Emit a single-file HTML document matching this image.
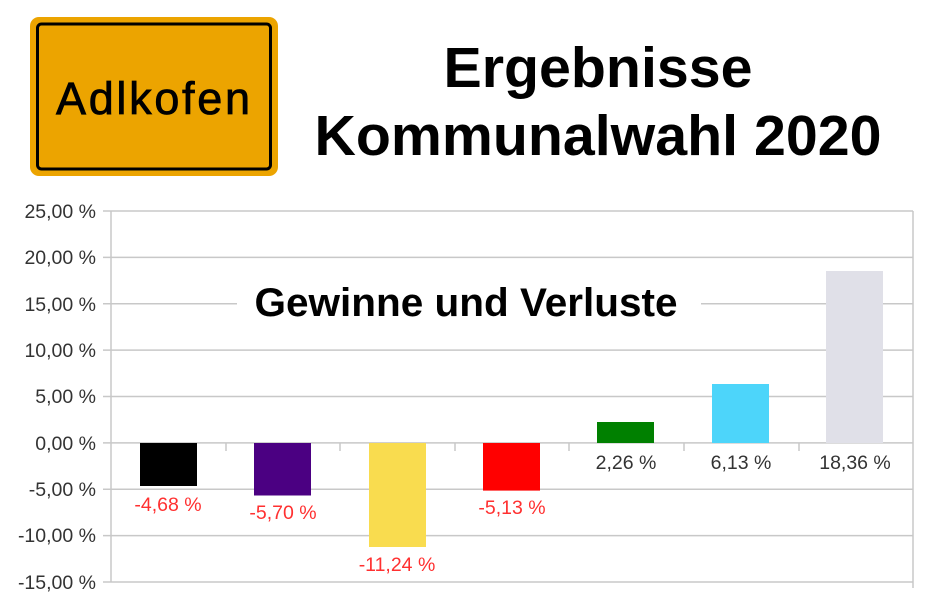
<!DOCTYPE html>
<html><head><meta charset="utf-8"><style>
html,body{margin:0;padding:0;background:#fff;}
svg{display:block;}
</style></head><body>
<svg width="940" height="613" xmlns="http://www.w3.org/2000/svg" font-family="Liberation Sans, sans-serif">
<rect width="940" height="613" fill="#fff"/>
<rect x="30" y="17" width="248" height="159" rx="9" fill="#eca400"/>
<rect x="37.5" y="24" width="233" height="145" rx="4" fill="none" stroke="#000" stroke-width="3"/>
<text x="153" y="114" font-size="45" text-anchor="middle" fill="#000" stroke="#000" stroke-width="0.8" textLength="194" lengthAdjust="spacing">Adlkofen</text>
<text x="598" y="87" font-size="57" font-weight="bold" text-anchor="middle" textLength="309" lengthAdjust="spacingAndGlyphs">Ergebnisse</text>
<text x="598" y="155" font-size="57" font-weight="bold" text-anchor="middle" textLength="567" lengthAdjust="spacingAndGlyphs">Kommunalwahl 2020</text>
<g stroke="#c8c8c8" stroke-width="1.5">
<line x1="103" x2="913" y1="211" y2="211"/>
<line x1="103" x2="913" y1="257.4" y2="257.4"/>
<line x1="103" x2="913" y1="303.8" y2="303.8"/>
<line x1="103" x2="913" y1="350.1" y2="350.1"/>
<line x1="103" x2="913" y1="396.5" y2="396.5"/>
<line x1="103" x2="913" y1="442.9" y2="442.9"/>
<line x1="103" x2="913" y1="489.3" y2="489.3"/>
<line x1="103" x2="913" y1="535.6" y2="535.6"/>
<line x1="103" x2="913" y1="582" y2="582"/>
<line x1="111" x2="111" y1="211" y2="582"/>
<line x1="913" x2="913" y1="211" y2="588"/>
<line x1="226" x2="226" y1="443" y2="451"/>
<line x1="340" x2="340" y1="443" y2="451"/>
<line x1="455" x2="455" y1="443" y2="451"/>
<line x1="569" x2="569" y1="443" y2="451"/>
<line x1="684" x2="684" y1="443" y2="451"/>
<line x1="799" x2="799" y1="443" y2="451"/>
</g>
<rect x="237" y="282" width="464" height="42" fill="#fff"/>
<text x="466" y="316" font-size="40" font-weight="bold" text-anchor="middle" textLength="423" lengthAdjust="spacingAndGlyphs">Gewinne und Verluste</text>
<g font-size="19.5" fill="#333" text-anchor="end">
<text x="96" y="218">25,00 %</text>
<text x="96" y="264">20,00 %</text>
<text x="96" y="311">15,00 %</text>
<text x="96" y="357">10,00 %</text>
<text x="96" y="403">5,00 %</text>
<text x="96" y="450">0,00 %</text>
<text x="96" y="496">-5,00 %</text>
<text x="96" y="542">-10,00 %</text>
<text x="96" y="589">-15,00 %</text>
</g>
<rect x="140" y="443" width="57" height="43" fill="#000"/>
<rect x="254" y="443" width="57" height="52.5" fill="#4b0082"/>
<rect x="369" y="443" width="57" height="104" fill="#f9dc4f"/>
<rect x="483" y="443" width="57" height="47.6" fill="#ff0000"/>
<rect x="597" y="422" width="57" height="21" fill="#008000"/>
<rect x="712" y="384" width="57" height="59" fill="#4dd5fa"/>
<rect x="826" y="271" width="57" height="172" fill="#e0e0e8"/>
<g font-size="19.5" text-anchor="middle">
<text x="168" y="511" fill="#ff3030">-4,68 %</text>
<text x="283" y="519" fill="#ff3030">-5,70 %</text>
<text x="397" y="571" fill="#ff3030">-11,24 %</text>
<text x="512" y="514" fill="#ff3030">-5,13 %</text>
<text x="626" y="469" fill="#333">2,26 %</text>
<text x="741" y="469" fill="#333">6,13 %</text>
<text x="855" y="469" fill="#333">18,36 %</text>
</g>
</svg>
</body></html>
